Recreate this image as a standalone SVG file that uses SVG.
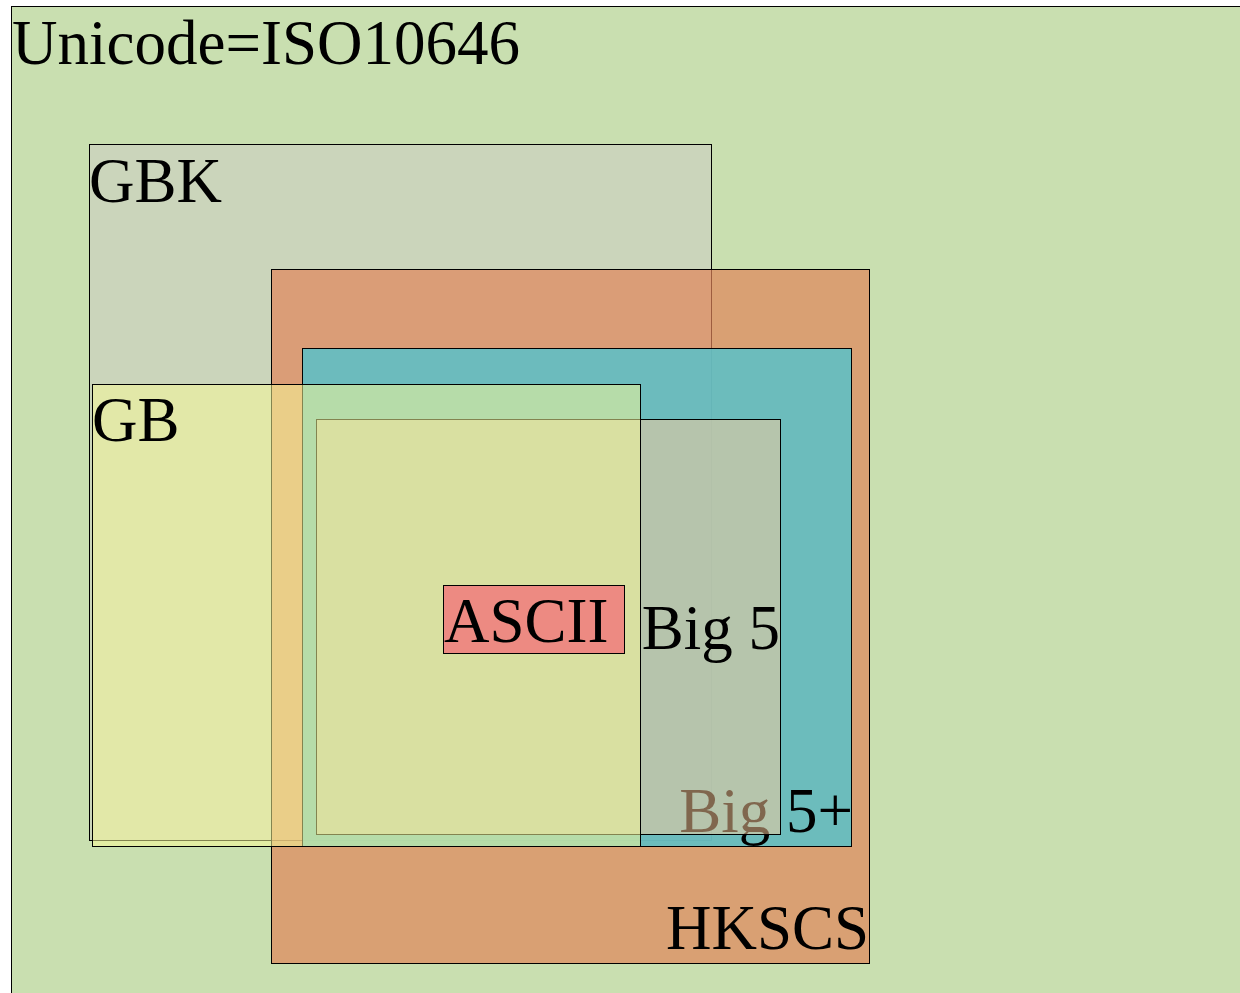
<svg xmlns="http://www.w3.org/2000/svg" width="1240" height="993" viewBox="0 0 1240 993">
<style>
rect{stroke:#000;stroke-width:1}
text{font-family:"Liberation Serif","Times New Roman",serif;font-size:63px;fill:#000}
.end{text-anchor:end}
</style>
<g id="unicode">
<rect x="11.5" y="6.5" width="1240" height="1000" fill="#c9dfb0"/>
<text x="12" y="64">Unicode=ISO10646</text>
</g>
<g id="gbk">
<rect x="89.5" y="144.5" width="622" height="696" fill="#cdcbc6" fill-opacity="0.5"/>
<text x="89" y="202">GBK</text>
</g>
<g id="hkscs">
<rect x="271.5" y="269.5" width="598" height="694" fill="#e0845a" fill-opacity="0.7"/>
<text class="end" x="869" y="949">HKSCS</text>
</g>
<g id="big5plus">
<rect x="302.5" y="348.5" width="549" height="498" fill="#5fbfc4" fill-opacity="0.9"/>
<text class="end" x="853" y="832">Big 5+</text>
</g>
<g id="big5">
<rect x="316.5" y="419.5" width="464" height="415" fill="#ffcd9b" fill-opacity="0.5"/>
<text class="end" x="780" y="649">Big 5</text>
</g>
<g id="gb">
<rect x="92.5" y="384.5" width="548" height="462" fill="#f8f997" fill-opacity="0.53"/>
<text x="92" y="441">GB</text>
</g>
<g id="ascii">
<rect x="443.5" y="585.5" width="181" height="68" fill="#ed8a82"/>
<text x="444" y="642">ASCII</text>
</g>
<g id="connectors"/>
</svg>
